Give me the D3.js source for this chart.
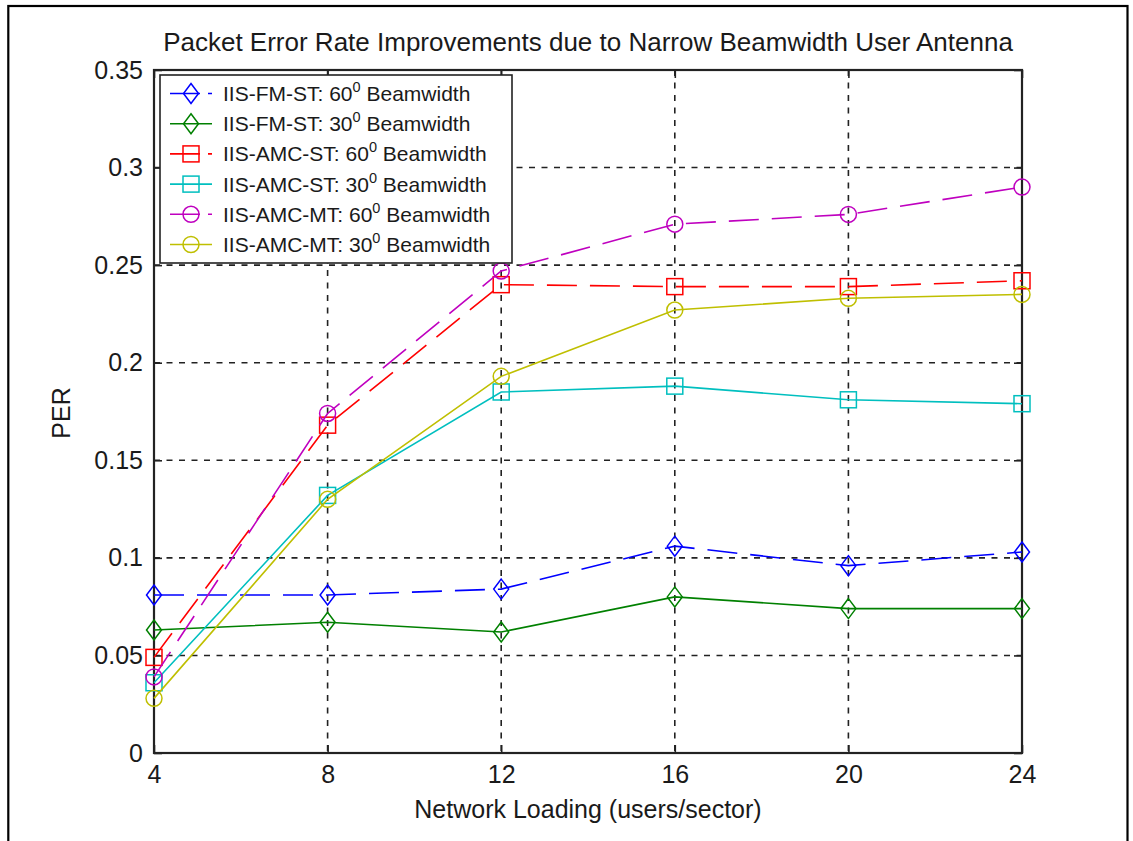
<!DOCTYPE html>
<html>
<head>
<meta charset="utf-8">
<script src="https://d3js.org/d3.v7.min.js"></script>
<style>
  body { margin: 0; background: #fff; }
  text { font-family: "Liberation Sans", Arial, sans-serif; fill: #1a1a1a; }
</style>
</head>
<body>
<script>
// data
var loading = [4, 8, 12, 16, 20, 24];
var fmSt60  = [0.081, 0.081, 0.084, 0.106, 0.096, 0.103];
var fmSt30  = [0.063, 0.067, 0.062, 0.080, 0.074, 0.074];
var amcSt60 = [0.049, 0.168, 0.240, 0.239, 0.239, 0.242];
var amcSt30 = [0.036, 0.132, 0.185, 0.188, 0.181, 0.179];
var amcMt60 = [0.039, 0.174, 0.247, 0.271, 0.276, 0.290];
var amcMt30 = [0.028, 0.130, 0.193, 0.227, 0.233, 0.235];
var seriesNames = ["IIS-FM-ST: 60", "IIS-FM-ST: 30", "IIS-AMC-ST: 60",
                   "IIS-AMC-ST: 30", "IIS-AMC-MT: 60", "IIS-AMC-MT: 30"];
var xTicks = [4, 8, 12, 16, 20, 24];
var yTicks = [0, 0.05, 0.1, 0.15, 0.2, 0.25, 0.3, 0.35];

var series = [
  { name: seriesNames[0], values: fmSt60,  color: "#0000ff", dashed: true,  marker: "diamond" },
  { name: seriesNames[1], values: fmSt30,  color: "#008000", dashed: false, marker: "diamond" },
  { name: seriesNames[2], values: amcSt60, color: "#ff0000", dashed: true,  marker: "square" },
  { name: seriesNames[3], values: amcSt30, color: "#00bfbf", dashed: false, marker: "square" },
  { name: seriesNames[4], values: amcMt60, color: "#bf00bf", dashed: true,  marker: "circle" },
  { name: seriesNames[5], values: amcMt30, color: "#bfbf00", dashed: false, marker: "circle" }
];

var W = 1133, H = 841;
var pLeft = 154, pRight = 1022, pTop = 70, pBottom = 753;

var svg = d3.select("body").append("svg")
  .attr("width", W).attr("height", H);

svg.append("rect").attr("width", W).attr("height", H).attr("fill", "#fff");

// outer figure frame
svg.append("rect")
  .attr("x", 8.3).attr("y", 6).attr("width", 1119.2).attr("height", 900)
  .attr("fill", "none").attr("stroke", "#000").attr("stroke-width", 2.2);

var x = d3.scaleLinear().domain([4, 24]).range([pLeft, pRight]);
var y = d3.scaleLinear().domain([0, 0.35]).range([pBottom, pTop]);

// grid
var grid = svg.append("g").attr("stroke", "#222").attr("stroke-width", 1.6)
  .attr("stroke-dasharray", "6,6.5");
grid.selectAll(".gx").data(xTicks.slice(1, -1)).join("line")
  .attr("x1", d => x(d)).attr("x2", d => x(d))
  .attr("y1", pTop).attr("y2", pBottom);
grid.selectAll(".gy").data(yTicks.slice(1, -1)).join("line")
  .attr("x1", pLeft).attr("x2", pRight)
  .attr("y1", d => y(d)).attr("y2", d => y(d));

var fmt = d => d === 0 ? "0" : String(+d.toFixed(2));

// axes (ticks point inward, box on)
function styleAxis(g) {
  g.select(".domain").remove();
  g.selectAll(".tick line").attr("stroke", "#222").attr("stroke-width", 1.6);
  g.selectAll("text").attr("font-size", 25).attr("fill", "#1a1a1a")
    .attr("font-family", "Liberation Sans, Arial, sans-serif");
}
svg.append("g").attr("transform", "translate(0," + pBottom + ")")
  .call(d3.axisBottom(x).tickValues(xTicks).tickSize(-8).tickPadding(12))
  .call(styleAxis);
svg.append("g").attr("transform", "translate(" + pLeft + ",0)")
  .call(d3.axisLeft(y).tickValues(yTicks).tickFormat(fmt).tickSize(-8).tickPadding(11))
  .call(styleAxis);
svg.append("g").attr("transform", "translate(0," + pTop + ")")
  .call(d3.axisTop(x).tickValues(xTicks).tickSize(-8).tickFormat(""))
  .call(styleAxis);
svg.append("g").attr("transform", "translate(" + pRight + ",0)")
  .call(d3.axisRight(y).tickValues(yTicks).tickSize(-8).tickFormat(""))
  .call(styleAxis);

svg.append("rect")
  .attr("x", pLeft).attr("y", pTop)
  .attr("width", pRight - pLeft).attr("height", pBottom - pTop)
  .attr("fill", "none").attr("stroke", "#222").attr("stroke-width", 2.2);

// markers
function drawMarker(g, type, cx, cy, color) {
  if (type === "diamond") {
    g.append("path")
      .attr("d", "M" + cx + "," + (cy - 10) + "L" + (cx + 7.5) + "," + cy +
                 "L" + cx + "," + (cy + 10) + "L" + (cx - 7.5) + "," + cy + "Z")
      .attr("fill", "none").attr("stroke", color).attr("stroke-width", 1.5);
  } else if (type === "square") {
    g.append("rect")
      .attr("x", cx - 8).attr("y", cy - 8).attr("width", 16).attr("height", 16)
      .attr("fill", "none").attr("stroke", color).attr("stroke-width", 1.5);
  } else {
    g.append("circle")
      .attr("cx", cx).attr("cy", cy).attr("r", 8)
      .attr("fill", "none").attr("stroke", color).attr("stroke-width", 1.5);
  }
}

var line = d3.line().x(d => x(d[0])).y(d => y(d[1]));

series.forEach(function (s) {
  var pts = loading.map((v, i) => [v, s.values[i]]);
  var g = svg.append("g");
  g.append("path").datum(pts)
    .attr("d", line)
    .attr("fill", "none")
    .attr("stroke", s.color)
    .attr("stroke-width", 1.6)
    .attr("stroke-dasharray", s.dashed ? "30,13" : null);
  pts.forEach(p => drawMarker(g, s.marker, x(p[0]), y(p[1]), s.color));
});

// title and labels
svg.append("text")
  .attr("x", (pLeft + pRight) / 2).attr("y", 51)
  .attr("text-anchor", "middle").attr("font-size", 26)
  .text("Packet Error Rate Improvements due to Narrow Beamwidth User Antenna");

svg.append("text")
  .attr("x", (pLeft + pRight) / 2).attr("y", 818)
  .attr("text-anchor", "middle").attr("font-size", 25)
  .text("Network Loading (users/sector)");

svg.append("text")
  .attr("transform", "translate(70,413) rotate(-90)")
  .attr("text-anchor", "middle").attr("font-size", 25)
  .text("PER");

// legend
var lg = svg.append("g");
lg.append("rect")
  .attr("x", 160).attr("y", 75).attr("width", 352).attr("height", 188)
  .attr("fill", "#fff").attr("stroke", "#222").attr("stroke-width", 1.6);

series.forEach(function (s, i) {
  var cy = 93.5 + i * 30.2;
  lg.append("line")
    .attr("x1", 170).attr("x2", 212).attr("y1", cy).attr("y2", cy)
    .attr("stroke", s.color).attr("stroke-width", 1.6)
    .attr("stroke-dasharray", s.dashed ? "30,8" : null);
  drawMarker(lg, s.marker, 191, cy, s.color);
  var t = lg.append("text")
    .attr("x", 223).attr("y", cy + 7.5).attr("font-size", 21);
  t.append("tspan").text(s.name);
  t.append("tspan").attr("font-size", 14.5).attr("dy", -9).text("0");
  t.append("tspan").attr("dy", 9).text(" Beamwidth");
});
</script>
</body>
</html>
